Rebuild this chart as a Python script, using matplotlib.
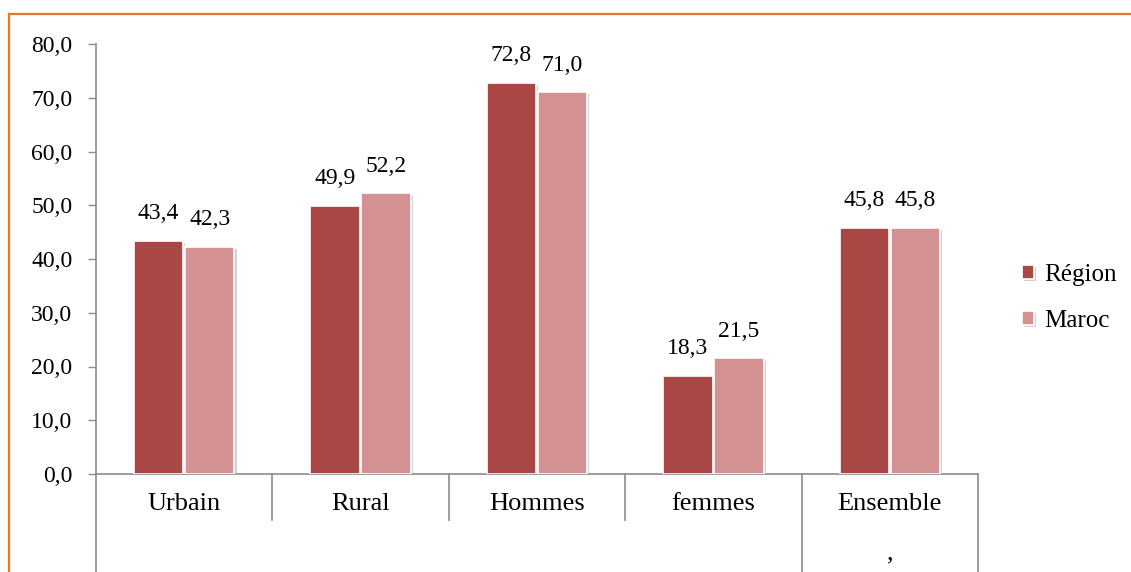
import matplotlib
matplotlib.use("Agg")
import matplotlib.pyplot as plt
import matplotlib.patheffects as pe
from matplotlib.lines import Line2D
import numpy as np

categories = ["Urbain", "Rural", "Hommes", "femmes", "Ensemble"]
region = [43.4, 49.9, 72.8, 18.3, 45.8]
maroc = [42.3, 52.2, 71.0, 21.5, 45.8]
yticks = np.arange(0, 81, 10)

c_region = "#A94745"
c_maroc = "#D39191"
grey = "#8C8C8C"

plt.rcParams["font.family"] = ["Liberation Serif", "DejaVu Serif"]

fig = plt.figure(figsize=(11.31, 5.72), dpi=100)
ax = fig.add_axes([96 / 1131, 1 - 474 / 572, (978 - 96) / 1131, 430 / 572])

x = np.arange(len(categories))
w = 0.28
off = 0.145
shadow = [pe.SimplePatchShadow(offset=(1.5, -1.5), shadow_rgbFace="#999999", alpha=0.45), pe.Normal()]
b1 = ax.bar(x - off, region, w, color=c_region, edgecolor="white", linewidth=1.2,
            path_effects=shadow, zorder=3)
b2 = ax.bar(x + off, maroc, w, color=c_maroc, edgecolor="white", linewidth=1.2,
            path_effects=shadow, zorder=3)

for bars, vals in ((b1, region), (b2, maroc)):
    for r, v in zip(bars, vals):
        ax.annotate(f"{v:.1f}".replace(".", ","), (r.get_x() + r.get_width() / 2, v),
                    xytext=(0, 19.5), textcoords="offset points",
                    ha="center", va="center", fontsize=17)

ax.set_xlim(-0.5, len(categories) - 0.5)
ax.set_ylim(0, 80)
ax.set_yticks(yticks)
ax.set_yticklabels([f"{t:.1f}".replace(".", ",") for t in yticks], fontsize=17)
ax.tick_params(axis="y", direction="out", length=6, width=1, color=grey, pad=11)
ax.set_xticks([])
for s in ("top", "right"):
    ax.spines[s].set_visible(False)
for s in ("left", "bottom"):
    ax.spines[s].set_color(grey)
    ax.spines[s].set_linewidth(1.2)

# multi-level category axis
tr = ax.get_xaxis_transform()
for i in range(len(categories) + 1):
    xb = i - 0.5
    long_line = i in (0, len(categories) - 1, len(categories))
    y_end = -0.3 if long_line else -0.107
    ax.add_line(Line2D([xb, xb], [0, y_end], transform=tr, color=grey, lw=1.2, clip_on=False))
for i, c in enumerate(categories):
    ax.text(i, -0.07, c, transform=tr, ha="center", va="center", fontsize=19)
ax.text(len(categories) - 1, -0.184, ",", transform=tr, ha="center", va="center", fontsize=19)

leg = fig.legend([b1, b2], ["Région", "Maroc"], loc="center left",
                 bbox_to_anchor=(999 / 1131, 1 - 298 / 572), frameon=False,
                 fontsize=18, handlelength=0.5, handleheight=0.5, handletextpad=0.4,
                 labelspacing=0.95)

# orange frame (cropped)
fig.add_artist(Line2D([9 / 1131, 1.0], [1 - 14 / 572] * 2, transform=fig.transFigure,
                      color="#E87722", lw=1.6))
fig.add_artist(Line2D([9 / 1131] * 2, [0, 1 - 14 / 572], transform=fig.transFigure,
                      color="#E87722", lw=1.6))

fig.savefig("out.png", dpi=100)
